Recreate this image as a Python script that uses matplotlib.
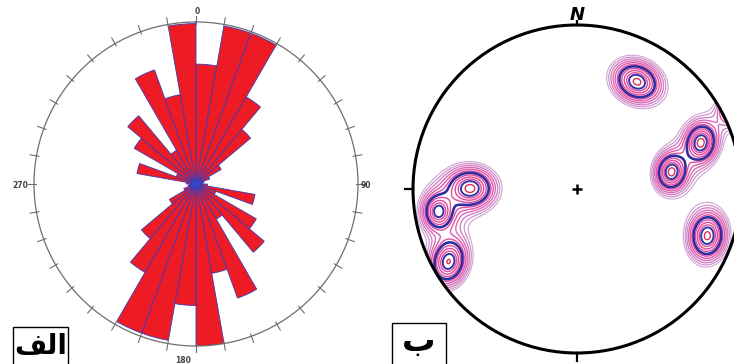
import numpy as np
import matplotlib
matplotlib.use('Agg')
import matplotlib.pyplot as plt
from matplotlib.patches import Circle, Rectangle

# ---------------- data ----------------
# rose diagram: 10-degree bins (start azimuth), relative petal length (1 = outer circle)
bin_start_deg = list(range(0, 360, 10))
petal_length = [0.74, 0.99, 0.99, 0.62, 0.44, 0.18, 0.09, 0.05, 0.04, 0.07,
                0.37, 0.13, 0.43, 0.55, 0.25, 0.75, 0.56, 1.00,
                0.75, 0.98, 0.98, 0.63, 0.44, 0.19, 0.08, 0.05, 0.04, 0.06,
                0.37, 0.13, 0.44, 0.55, 0.24, 0.75, 0.56, 0.99]
rose_labels = ['0', '90', '180', '270']

# stereonet pole-density clusters (normalised net coordinates)
cluster_x = [0.366, 0.755, 0.576, 0.795, -0.651, -0.845, -0.783, 0.955]
cluster_y = [0.654, 0.282, 0.104, -0.285, 0.004, -0.138, -0.443, 0.500]
cluster_sig_major = [0.072, 0.060, 0.058, 0.072, 0.072, 0.058, 0.072, 0.055]
cluster_sig_minor = [0.058, 0.047, 0.047, 0.054, 0.060, 0.048, 0.054, 0.042]
cluster_angle_deg = [-25, 80, 80, 85, 0, 90, 75, 65]
cluster_weight = [1.0, 1.0, 1.0, 1.0, 1.0, 0.85, 0.95, 0.8]
contour_levels = [0.132, 0.158, 0.189, 0.228, 0.274, 0.330, 0.395,
                  0.483, 0.583, 0.691, 0.799, 0.951]
panel_labels = ['\uFED2\uFEDF\uFE8D', 'ب']

# ---------------- figure ----------------
W, H = 734, 364
fig = plt.figure(figsize=(W / 100, H / 100), dpi=100)
fig.patch.set_facecolor('white')

# ---- left: rose diagram ----
cxL, cyL, RL = 196, 364 - 184, 162
axL = fig.add_axes([(cxL - RL) / W, (cyL - RL) / H, 2 * RL / W, 2 * RL / H], projection='polar')
axL.set_theta_zero_location('N')
axL.set_theta_direction(-1)
theta = np.deg2rad(np.array(bin_start_deg) + 5)
axL.bar(theta, petal_length, width=np.deg2rad(10), bottom=0.0,
        color='#ED1C24', edgecolor='#3B3BB5', linewidth=0.6, zorder=2)
axL.set_ylim(0, 1.0)
axL.grid(False)
axL.set_xticks([])
axL.set_yticks([])
axL.spines['polar'].set_color('#6E6E6E')
axL.spines['polar'].set_linewidth(0.9)
axL.plot([0], [0], 'o', color='#3347C8', markersize=5, zorder=3)
for a in range(0, 360, 10):
    t = np.deg2rad(a)
    axL.plot([t, t], [0.985, 1.04], color='#6E6E6E', lw=0.8, clip_on=False)
fs_small = 5.5
fig.text(197 / W, (H - 11.5) / H, rose_labels[0], ha='center', va='center',
         fontsize=fs_small, fontweight='bold', color='#444444')
fig.text(361 / W, (H - 185) / H, rose_labels[1], ha='left', va='center',
         fontsize=fs_small, fontweight='bold', color='#444444')
fig.text(183 / W, (H - 360.5) / H, rose_labels[2], ha='center', va='center',
         fontsize=fs_small, fontweight='bold', color='#444444')
fig.text(28 / W, (H - 185) / H, rose_labels[3], ha='right', va='center',
         fontsize=fs_small, fontweight='bold', color='#444444')

# ---- right: stereonet density ----
cxR, cyR, RR = 577, 364 - 189, 164
half = 190
axR = fig.add_axes([(cxR - half) / W, (cyR - half) / H, 2 * half / W, 2 * half / H])
axR.set_xlim(-half / RR, half / RR)
axR.set_ylim(-half / RR, half / RR)
axR.set_aspect('equal')
axR.axis('off')
axR.patch.set_visible(False)

g = np.linspace(-1.1, 1.1, 800)
X, Y = np.meshgrid(g, g)
Z = np.zeros_like(X)
k = 2.0
for x0, y0, sa, sb, ang, w in zip(cluster_x, cluster_y, cluster_sig_major, cluster_sig_minor,
                                  cluster_angle_deg, cluster_weight):
    a = np.deg2rad(ang)
    u = (X - x0) * np.cos(a) + (Y - y0) * np.sin(a)
    v = -(X - x0) * np.sin(a) + (Y - y0) * np.cos(a)
    d2 = (u / sa) ** 2 + (v / sb) ** 2
    Z += w * (1 + d2 / (2 * k)) ** (-k)

cols = ['#D3A6D6', '#CC92CC', '#D27EC2', '#D96CB8', '#E058AA', '#E24CA2',
        '#2E2EA0', '#E24AA0', '#E2479E', '#E24A9A', '#3434AA', '#E0305A']
lws = [0.85, 0.85, 0.95, 1.0, 1.0, 1.0, 1.9, 1.0, 1.0, 1.0, 1.4, 1.0]
clip = Circle((0, 0), 1.0, transform=axR.transData)
cs = axR.contour(X, Y, Z, levels=contour_levels, colors=cols, linewidths=lws)
cs.set_clip_path(clip)

axR.add_patch(Circle((0, 0), 1.0, fill=False, lw=2.2, color='black', zorder=5))
axR.plot([0, 0], [1.0, 1.025], color='black', lw=1.6, zorder=5)
axR.plot([-1.0, -1.05], [0, 0], color='black', lw=1.6, zorder=5)
axR.plot([0, 0], [-1.0, -1.05], color='black', lw=1.6, zorder=5)
axR.plot([0], [0], marker='+', color='black', markersize=7, mew=1.8, zorder=5)
axR.text(0, 1.03, 'N', ha='center', va='baseline', fontsize=13,
         fontweight='bold', fontstyle='italic', zorder=5)

# ---- panel label boxes ----
fig.add_artist(Rectangle((13 / W, -0.02), 55 / W, (H - 327) / H + 0.02,
                         transform=fig.transFigure, fill=False, lw=1.0, color='black'))
fig.text(40.5 / W, (H - 346) / H, panel_labels[0], ha='center', va='center',
         fontsize=20, fontweight='bold', family=['DejaVu Sans'])
fig.add_artist(Rectangle((392 / W, -0.02), 54 / W, (H - 323) / H + 0.02,
                         transform=fig.transFigure, fill=False, lw=1.0, color='black'))
fig.text(419 / W, (H - 342) / H, panel_labels[1], ha='center', va='center',
         fontsize=24, fontweight='bold', family=['DejaVu Sans'])

fig.savefig('out.png', dpi=100, facecolor='white')
